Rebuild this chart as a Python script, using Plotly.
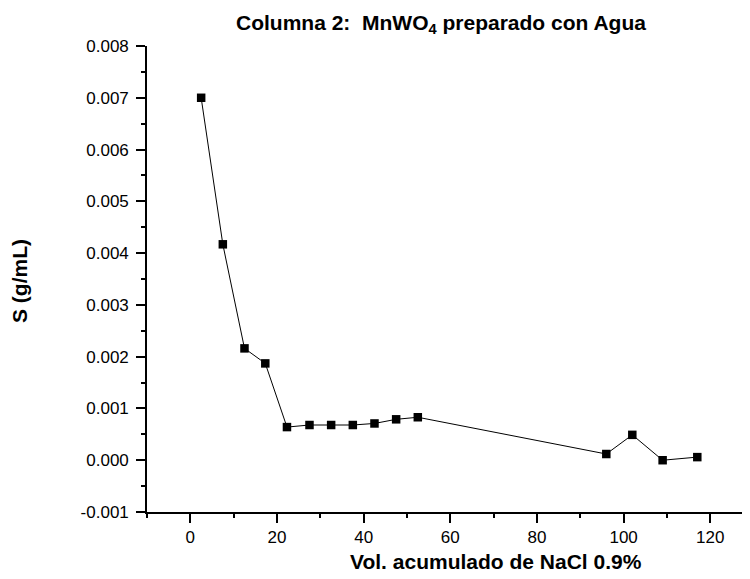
import plotly.graph_objects as go

vol = [2.5, 7.5, 12.5, 17.3, 22.3, 27.5, 32.5, 37.5, 42.5, 47.5, 52.5, 96.0, 102.0, 109.0, 117.0]
sol = [0.0070, 0.00417, 0.00216, 0.00187, 0.00064, 0.00068, 0.00068, 0.00068, 0.00071,
       0.00079, 0.00083, 0.00012, 0.00049, 0.0, 0.00006]

x_tickvals = [0, 20, 40, 60, 80, 100, 120]
x_ticktext = ["0", "20", "40", "60", "80", "100", "120"]
y_tickvals = [-0.001, 0.0, 0.001, 0.002, 0.003, 0.004, 0.005, 0.006, 0.007, 0.008]
y_ticktext = ["-0.001", "0.000", "0.001", "0.002", "0.003", "0.004", "0.005", "0.006", "0.007", "0.008"]

W, H = 750, 579
OFF = 8  # page body margin offset
ML, MR, MT, MB = 147 - OFF, 0, 46 - OFF, H - (512 - OFF)
PW, PH = W - ML - MR, H - MT - MB
PXU = 4.333  # pixels per x unit
XMAX = -10 + PW / PXU

fig = go.Figure()
fig.add_trace(go.Scatter(
    x=vol, y=sol, mode="lines+markers",
    line=dict(color="black", width=1),
    marker=dict(symbol="square", size=8.5, color="black"),
    showlegend=False, cliponaxis=False,
))

font = "Liberation Sans, Arial, sans-serif"
axis_common = dict(
    showline=True, linecolor="black", linewidth=1.6,
    showgrid=False, zeroline=False, mirror=False, automargin=False,
    ticks="outside", ticklen=9, tickwidth=1.5, tickcolor="black",
    tickfont=dict(family=font, size=17, color="black"),
)

def px_x(sx):
    return (sx - OFF - ML) / PW

def px_y(sy):
    return (H - MB - (sy - OFF)) / PH

fig.update_layout(
    width=W, height=H,
    margin=dict(l=ML, r=MR, t=MT, b=MB, autoexpand=False),
    paper_bgcolor="white", plot_bgcolor="white",
    xaxis=dict(range=[-10, XMAX], tickvals=x_tickvals, ticktext=x_ticktext,
               ticklabelstandoff=0,
               minor=dict(dtick=10, tick0=0, ticks="outside", ticklen=4, tickwidth=1.5, tickcolor="black"),
               **axis_common),
    yaxis=dict(range=[-0.001, 0.008], tickvals=y_tickvals, ticktext=y_ticktext,
               ticklabelstandoff=4,
               minor=dict(dtick=0.0005, tick0=0, ticks="outside", ticklen=4, tickwidth=1.5, tickcolor="black"),
               **axis_common),
    annotations=[
        dict(text="<b>Columna 2:  MnWO<sub>4</sub> preparado con Agua</b>",
             xref="paper", yref="paper", x=px_x(441), y=px_y(24),
             xanchor="center", yanchor="middle", showarrow=False,
             font=dict(family=font, size=21, color="black")),
        dict(text="<b>Vol. acumulado de NaCl 0.9%</b>",
             xref="paper", yref="paper", x=px_x(496), y=px_y(561),
             xanchor="center", yanchor="middle", showarrow=False,
             font=dict(family=font, size=21, color="black")),
        dict(text="<b>S (g/mL)</b>", textangle=-90,
             xref="paper", yref="paper", x=px_x(19), y=px_y(281),
             xanchor="center", yanchor="middle", showarrow=False,
             font=dict(family=font, size=21, color="black")),
    ],
)

fig.write_html("out.html")
